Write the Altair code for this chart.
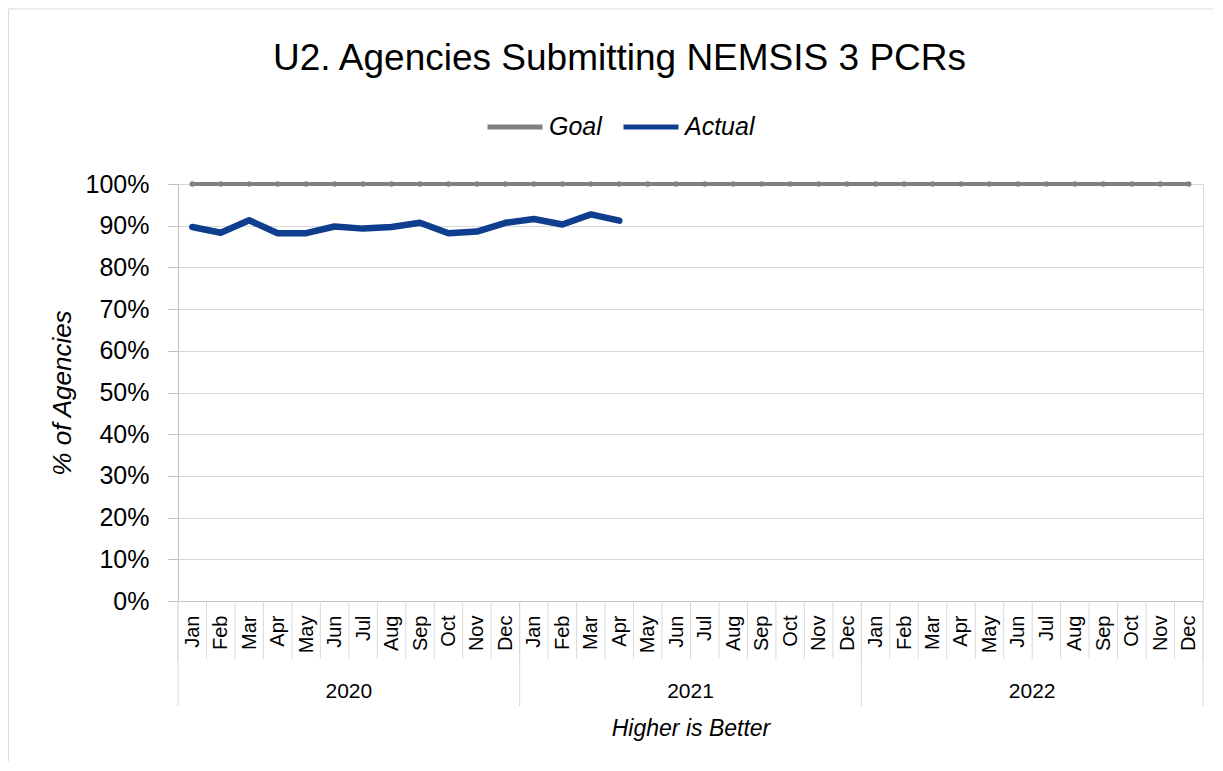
import altair as alt
import pandas as pd

# ---- data ----
months = ["Jan", "Feb", "Mar", "Apr", "May", "Jun", "Jul", "Aug", "Sep", "Oct", "Nov", "Dec"]
years = ["2020", "2021", "2022"]
goal_pct = [100, 100, 100, 100, 100, 100, 100, 100, 100, 100, 100, 100,
            100, 100, 100, 100, 100, 100, 100, 100, 100, 100, 100, 100,
            100, 100, 100, 100, 100, 100, 100, 100, 100, 100, 100, 100]
actual_pct = [89.7, 88.3, 91.3, 88.2, 88.2, 89.8, 89.3, 89.7, 90.7, 88.2, 88.6, 90.7,
              91.6, 90.3, 92.7, 91.2]
y_ticks = [0, 0.1, 0.2, 0.3, 0.4, 0.5, 0.6, 0.7, 0.8, 0.9, 1.0]

FONT = "Liberation Sans"
GOAL_C = "#808080"
ACT_C = "#0F3E8F"
GRID_C = "#D9D9D9"

n = len(months) * len(years)
rows = []
for i, v in enumerate(goal_pct):
    rows.append({"pos": i + 0.5, "series": "Goal", "value": v / 100})
for i, v in enumerate(actual_pct):
    rows.append({"pos": i + 0.5, "series": "Actual", "value": v / 100})
df = pd.DataFrame(rows)

sep_df = pd.DataFrame({"pos": list(range(n + 1))})
year_sep_df = pd.DataFrame({"pos": [k * len(months) for k in range(len(years) + 1)]})
year_df = pd.DataFrame({"pos": [k * len(months) + len(months) / 2 for k in range(len(years))],
                        "year": years})

W, H = 1025, 417
xscale = alt.Scale(domain=[0, n], nice=False, zero=False)
yscale = alt.Scale(domain=[0, 1], nice=False)
color_scale = alt.Scale(domain=["Goal", "Actual"], range=[GOAL_C, ACT_C])

month_expr = "[" + ",".join("'%s'" % m for m in months) + "][floor(datum.value) % 12]"

x_axis = alt.Axis(
    values=[i + 0.5 for i in range(n)], tickCount=n + 4, labelExpr=month_expr, labelAngle=270,
    labelFontSize=20, labelFont=FONT, labelColor="black", labelPadding=14,
    labelOverlap=False, labelSeparation=0, labelFlush=False, labelBound=False,
    ticks=False, tickSize=0, grid=False, domainColor="#BFBFBF",
    title="Higher is Better", titleFont=FONT, titleFontSize=23, titleFontStyle="italic",
    titleFontWeight="normal", titleColor="black", titleX=W / 2, titleY=127,
    titleAlign="center", titleBaseline="middle",
)
y_axis = alt.Axis(
    values=y_ticks, tickCount=len(y_ticks), format=".0%", labelFontSize=25, labelFont=FONT,
    labelColor="black", tickSize=10, tickColor="#BFBFBF", labelPadding=19, gridColor=GRID_C,
    domainColor="#BFBFBF",
    title="% of Agencies", titleFont=FONT, titleFontSize=26, titleFontStyle="italic",
    titleFontWeight="normal", titleColor="black", titleAngle=270, titleX=-116, titleY=H / 2,
    titleAlign="center", titleBaseline="middle",
)

base = alt.Chart(df)

goal_line = base.transform_filter(alt.datum.series == "Goal").mark_line(
    strokeWidth=4, point=alt.OverlayMarkDef(size=28, filled=True, color=GOAL_C)
).encode(
    x=alt.X("pos:Q", scale=xscale, axis=x_axis),
    y=alt.Y("value:Q", scale=yscale, axis=y_axis),
    color=alt.Color("series:N", scale=color_scale, sort=["Goal", "Actual"],
                    legend=alt.Legend(title=None, orient="none", direction="horizontal",
                                      legendX=307, legendY=-87, labelFont=FONT,
                                      labelFontSize=25, labelFontStyle="italic",
                                      labelColor="black", symbolType="stroke",
                                      symbolSize=3025, symbolStrokeWidth=5,
                                      labelOffset=4, columnPadding=11)),
)

actual_line = base.transform_filter(alt.datum.series == "Actual").mark_line(
    strokeWidth=6.5, strokeCap="round", strokeJoin="round"
).encode(
    x=alt.X("pos:Q", scale=xscale),
    y=alt.Y("value:Q", scale=yscale),
    color=alt.Color("series:N", scale=color_scale),
)

month_seps = alt.Chart(sep_df).mark_rule(color=GRID_C, strokeWidth=1).encode(
    x=alt.X("pos:Q", scale=xscale),
    y=alt.value(H), y2=alt.value(H + 58),
)
year_seps = alt.Chart(year_sep_df).mark_rule(color=GRID_C, strokeWidth=1).encode(
    x=alt.X("pos:Q", scale=xscale),
    y=alt.value(H), y2=alt.value(H + 105),
)
year_labels = alt.Chart(year_df).mark_text(
    font=FONT, fontSize=21, color="black", baseline="middle", align="center"
).encode(
    x=alt.X("pos:Q", scale=xscale),
    y=alt.value(508),
    text="year:N",
)
border = alt.Chart(pd.DataFrame({"k": [0]})).mark_rect(
    fill=None, stroke=GRID_C, strokeWidth=1
).encode(
    x=alt.value(-169.5), x2=alt.value(1100), y=alt.value(-175), y2=alt.value(700)
)

chart = alt.layer(
    border, month_seps, year_seps, year_labels, goal_line, actual_line
).properties(
    width=W, height=H,
    title=alt.Title("U2. Agencies Submitting NEMSIS 3 PCRs", font=FONT, fontSize=37,
                    fontWeight="normal", color="black", anchor="middle", dx=-71,
                    offset=0, baseline="alphabetic", dy=98),
    autosize=alt.AutoSizeParams(type="none"),
    padding={"left": 170, "top": 176, "right": 10, "bottom": 160},
).configure_view(
    stroke="#BFBFBF"
).configure(background="white")

chart.save("out.html", embed_options={"renderer": "svg", "actions": False})
